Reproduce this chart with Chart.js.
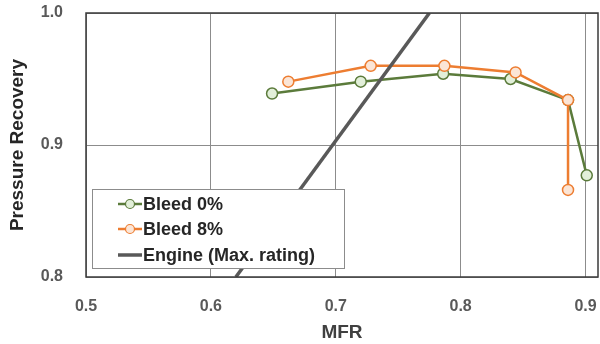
<!DOCTYPE html>
<html lang="en">
<head>
  <meta charset="UTF-8">
  <title>Pressure Recovery vs MFR</title>
  <script src="https://cdn.jsdelivr.net/npm/chart.js"></script>
  <style>
    body { margin: 0; background: #fff; }
    #chart { display: block; }
  </style>
</head>
<body>
  <canvas id="chart" width="600" height="344"></canvas>
  <script>
    // data
    const bleed0Mfr = [0.649, 0.720, 0.786, 0.840, 0.886, 0.901];
    const bleed0Rec = [0.939, 0.948, 0.954, 0.950, 0.934, 0.877];
    const bleed8Mfr = [0.662, 0.728, 0.787, 0.844, 0.886, 0.886];
    const bleed8Rec = [0.948, 0.960, 0.960, 0.955, 0.934, 0.866];
    const engineMfr = [0.620, 0.775];
    const engineRec = [0.800, 1.000];
    const xTicks = [0.5, 0.6, 0.7, 0.8, 0.9];
    const yTicks = [0.8, 0.9, 1.0];
    const seriesNames = ['Bleed 0%', 'Bleed 8%', 'Engine (Max. rating)'];

    const toPoints = (xs, ys) => xs.map((x, i) => ({ x: x, y: ys[i] }));

    const green = '#5b7b3b';
    const orange = '#ed7d31';
    const tickFont = { family: 'Liberation Sans, Arial, sans-serif', size: 16, weight: 'bold' };
    const titleFont = { family: 'Liberation Sans, Arial, sans-serif', size: 19, weight: 'bold' };

    // frame around the plot area + legend box inside it
    const framePlugin = {
      id: 'frame',
      afterDatasetsDraw(chart) {
        const { ctx, chartArea: a } = chart;
        ctx.save();
        ctx.strokeStyle = '#3a3a3a';
        ctx.lineWidth = 1.5;
        ctx.strokeRect(a.left, a.top, a.right - a.left, a.bottom - a.top);

        // legend
        const bx = 92, by = 189, bw = 252, bh = 79;
        ctx.fillStyle = '#fff';
        ctx.fillRect(bx, by, bw, bh);
        ctx.strokeStyle = '#8c8c8c';
        ctx.lineWidth = 1;
        ctx.strokeRect(bx + 0.5, by + 0.5, bw, bh);
        ctx.font = 'bold 18px "Liberation Sans", Arial, sans-serif';
        ctx.textBaseline = 'middle';
        const rows = [204, 229, 255];
        chart.data.datasets.forEach((ds, i) => {
          const y = rows[i];
          ctx.strokeStyle = ds.borderColor;
          ctx.lineWidth = ds.borderWidth;
          ctx.beginPath();
          ctx.moveTo(118, y);
          ctx.lineTo(142, y);
          ctx.stroke();
          if (ds.pointRadius > 0) {
            ctx.beginPath();
            ctx.arc(130, y, 4.5, 0, Math.PI * 2);
            ctx.fillStyle = ds.pointBackgroundColor;
            ctx.fill();
            ctx.lineWidth = 1.2;
            ctx.stroke();
          }
          ctx.fillStyle = '#262626';
          ctx.fillText(ds.label, 143, y + 1);
        });
        ctx.restore();
      }
    };

    // scale paddings would shrink the plot area, drop them
    const noPad = s => { s.paddingLeft = 0; s.paddingRight = 0; s.paddingTop = 0; s.paddingBottom = 0; };

    const chart = new Chart(document.getElementById('chart').getContext('2d'), {
      type: 'scatter',
      data: {
        datasets: [
          {
            label: seriesNames[0],
            data: toPoints(bleed0Mfr, bleed0Rec),
            showLine: true,
            borderColor: green,
            borderWidth: 2.5,
            pointRadius: 5.5,
            pointBorderWidth: 1.5,
            pointBackgroundColor: '#e2efd9',
            pointBorderColor: green,
            order: 2
          },
          {
            label: seriesNames[1],
            data: toPoints(bleed8Mfr, bleed8Rec),
            showLine: true,
            borderColor: orange,
            borderWidth: 2.5,
            pointRadius: 5.5,
            pointBorderWidth: 1.5,
            pointBackgroundColor: '#fbe5d6',
            pointBorderColor: orange,
            order: 1
          },
          {
            label: seriesNames[2],
            data: toPoints(engineMfr, engineRec),
            showLine: true,
            borderColor: '#595959',
            borderWidth: 3.5,
            pointRadius: 0,
            order: 0
          }
        ]
      },
      options: {
        responsive: false,
        animation: false,
        layout: { autoPadding: false, padding: { top: 13, right: 2, left: 0, bottom: 0 } },
        plugins: {
          legend: { display: false },
          tooltip: { enabled: false }
        },
        scales: {
          x: {
            type: 'linear',
            min: 0.5,
            max: 0.91,
            afterBuildTicks: s => { s.ticks = xTicks.map(v => ({ value: v })); },
            afterFit: s => { s.height = 67; noPad(s); },
            // invisible tick marks push the labels down
            grid: { color: '#8c8c8c', lineWidth: 1, drawTicks: true, tickLength: 20, tickColor: 'rgba(0,0,0,0)' },
            border: { display: false },
            ticks: {
              padding: 0,
              color: '#595959',
              font: tickFont,
              maxRotation: 0,
              callback: v => v.toFixed(1)
            },
            title: {
              display: true,
              text: 'MFR',
              color: '#404040',
              font: titleFont,
              padding: { top: 0, bottom: 0 }
            }
          },
          y: {
            type: 'linear',
            min: 0.8,
            max: 1.0,
            afterBuildTicks: s => { s.ticks = yTicks.map(v => ({ value: v })); },
            afterFit: s => { s.width = 86; noPad(s); },
            grid: { color: '#8c8c8c', lineWidth: 1, drawTicks: true, tickLength: 23, tickColor: 'rgba(0,0,0,0)' },
            border: { display: false },
            ticks: {
              padding: 0,
              color: '#595959',
              font: tickFont,
              callback: v => v.toFixed(1)
            },
            title: {
              display: true,
              text: 'Pressure Recovery',
              color: '#262626',
              font: titleFont,
              padding: { top: 6, bottom: 0 }
            }
          }
        }
      },
      plugins: [framePlugin]
    });
  </script>
</body>
</html>
